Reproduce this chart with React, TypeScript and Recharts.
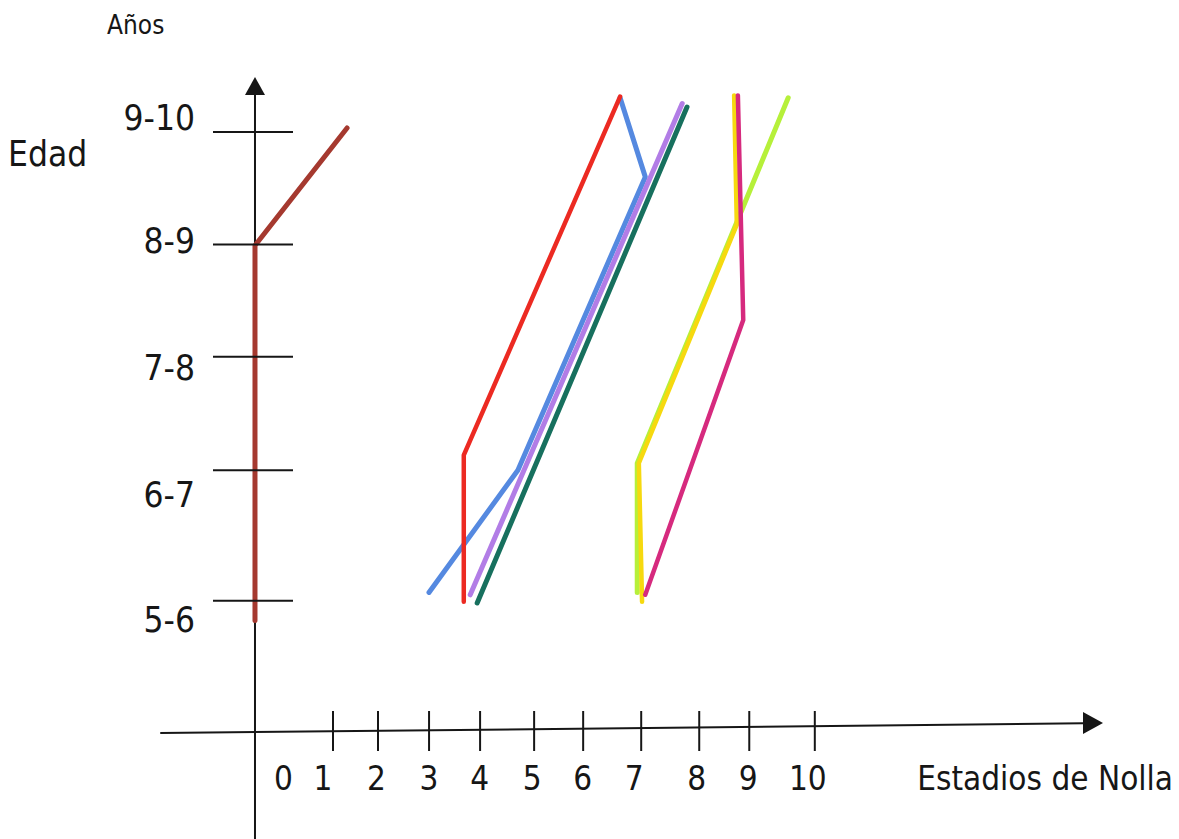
import { LineChart, Line, XAxis, YAxis, ReferenceLine, ReferenceDot } from 'recharts';

// Estadios de Nolla (x) vs edad (y). Edad: 1 = 5-6 años ... 5 = 9-10 años
const stageTicks = [0, 1, 2, 3, 4, 5, 6, 7, 8, 9, 10];
const ageTicks = [1, 2, 3, 4, 5];
const ageLabels = ['5-6', '6-7', '7-8', '8-9', '9-10'];

const brownX = [-0.27, -0.27, 1.45];
const brownY = [0.77, 3.99, 5.0];

const redX = [3.63, 3.63, 6.55];
const redY = [0.93, 2.19, 5.27];

const blueX = [2.98, 4.64, 7.02, 6.55];
const blueY = [1.01, 2.06, 4.58, 5.26];

const purpleX = [3.75, 7.71];
const purpleY = [0.99, 5.21];

const tealX = [3.88, 7.8];
const tealY = [0.92, 5.18];

const limeX = [6.87, 6.87, 9.69];
const limeY = [1.01, 2.12, 5.26];

const yellowX = [6.96, 6.9, 8.73, 8.68];
const yellowY = [0.93, 2.12, 4.17, 5.28];

const magentaX = [7.02, 8.85, 8.75];
const magentaY = [0.99, 3.35, 5.28];

const toPoints = (xs: number[], ys: number[]) => xs.map((x, i) => ({ x, y: ys[i] }));

const series = [
  { name: 'brown', color: '#a5392f', width: 5, data: toPoints(brownX, brownY) },
  { name: 'blue', color: '#5589e0', width: 5, data: toPoints(blueX, blueY) },
  { name: 'red', color: '#ec2a22', width: 4.5, data: toPoints(redX, redY) },
  { name: 'purple', color: '#b27de6', width: 5, data: toPoints(purpleX, purpleY) },
  { name: 'teal', color: '#17705e', width: 5, data: toPoints(tealX, tealY) },
  { name: 'lime', color: '#b6f03a', width: 5, data: toPoints(limeX, limeY) },
  { name: 'yellow', color: '#f6d90f', width: 4.5, data: toPoints(yellowX, yellowY) },
  { name: 'magenta', color: '#d62a7e', width: 4.5, data: toPoints(magentaX, magentaY) },
];

const FONT = "'DejaVu Sans Condensed', 'DejaVu Sans', sans-serif";
const INK = '#161616';

// hand drawn jitter of the tick marks and labels
const TICK_DX = [0, 10, 1.5, -1, -3.5, -3, -7.5, -3, 1.5, -2, 10];
const LABEL_DX = [14, 0, 0, -1, -4, -5, -8, -10, -1, -3, 3];
const Y_TICK_DY = [7, -7, -4, 0, 4];
const Y_LABEL_DY = [38, 30, 19, 9, 2];
// y axis is drawn 15px right of the plot edge
const Y_AXIS_SHIFT = 15;

function StageTick(props: any) {
  const { x, y, payload } = props;
  const v = payload.value as number;
  const y0 = y - 1;
  return (
    <g>
      {v > 0 && (
        <line x1={x + TICK_DX[v]} x2={x + TICK_DX[v]} y1={y0 - 19} y2={y0 + 21} stroke={INK} strokeWidth={2} />
      )}
      <text x={x + LABEL_DX[v]} y={y0 + 60} textAnchor="middle" fontSize={33} fontFamily={FONT} fill={INK}>
        {v}
      </text>
    </g>
  );
}

function AgeTick(props: any) {
  const { x, y, payload } = props;
  const i = (payload.value as number) - 1;
  const x0 = x + Y_AXIS_SHIFT;
  return (
    <g>
      <line x1={x0 - 42} x2={x0 + 38} y1={y + Y_TICK_DY[i]} y2={y + Y_TICK_DY[i]} stroke={INK} strokeWidth={2} />
      <text x={x0 - 60} y={y + Y_LABEL_DY[i]} textAnchor="end" fontSize={35} fontFamily={FONT} fill={INK}>
        {ageLabels[i]}
      </text>
    </g>
  );
}

const upArrow = (p: any) => (
  <path d={`M${p.cx},${p.cy} L${p.cx - 10},${p.cy + 18} L${p.cx + 10},${p.cy + 18} Z`} fill={INK} />
);
const rightArrow = (p: any) => (
  <path d={`M${p.cx},${p.cy} L${p.cx - 20},${p.cy - 11} L${p.cx - 20},${p.cy + 11} Z`} fill={INK} />
);

export default function App() {
  return (
    <div style={{ position: 'absolute', left: 0, top: 0, width: 1179, height: 839, background: '#fff' }}>
      <LineChart width={1179} height={839} margin={{ top: 77, right: 76, bottom: 107, left: 239 }}>
        <XAxis
          dataKey="x"
          type="number"
          domain={[-0.55, 15.57]}
          ticks={stageTicks}
          interval={0}
          height={1}
          axisLine={false}
          tickLine={false}
          tickSize={0}
          tickMargin={0}
          tick={<StageTick />}
          allowDataOverflow
          label={{
            value: 'Estadios de Nolla',
            content: () => (
              <text x={1173} y={790} textAnchor="end" fontSize={33} fontFamily={FONT} fill={INK}>
                Estadios de Nolla
              </text>
            ),
          }}
        />
        <YAxis
          dataKey="y"
          type="number"
          domain={[-0.18, 5.438]}
          ticks={ageTicks}
          interval={0}
          width={1}
          axisLine={false}
          tickLine={false}
          tickSize={0}
          tickMargin={0}
          tick={<AgeTick />}
          allowDataOverflow
          label={{
            value: 'Edad',
            content: () => (
              <g>
                <text x={8} y={166} fontSize={35} fontFamily={FONT} fill={INK}>
                  Edad
                </text>
                <text x={107} y={34} fontSize={26} fontFamily={FONT} fill={INK}>
                  Años
                </text>
              </g>
            ),
          }}
        />
        <ReferenceLine
          segment={[{ x: -0.27, y: 5.3 }, { x: -0.27, y: -1.11 }]}
          stroke={INK}
          strokeWidth={2}
          ifOverflow="visible"
        />
        <ReferenceLine
          segment={[{ x: -2.04, y: -0.198 }, { x: 15.2, y: -0.114 }]}
          stroke={INK}
          strokeWidth={2}
          ifOverflow="visible"
        />
        <ReferenceDot x={-0.27} y={5.438} ifOverflow="visible" shape={upArrow} />
        <ReferenceDot x={15.57} y={-0.112} ifOverflow="visible" shape={rightArrow} />
        {series.map((s) => (
          <Line
            key={s.name}
            data={s.data}
            dataKey="y"
            type="linear"
            stroke={s.color}
            strokeWidth={s.width}
            strokeLinecap="round"
            strokeLinejoin="round"
            dot={false}
            activeDot={false}
            isAnimationActive={false}
          />
        ))}
      </LineChart>
    </div>
  );
}
